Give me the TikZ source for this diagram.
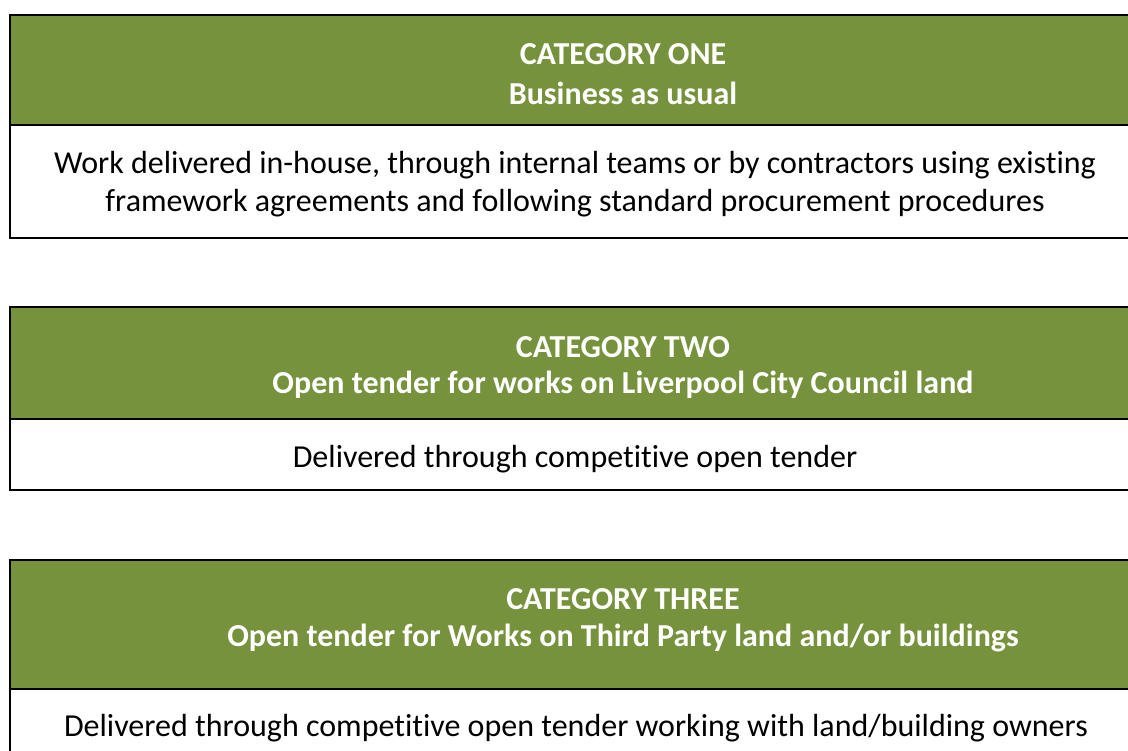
\documentclass[tikz,border=0pt]{standalone}
\usepackage{fontspec}
\setmainfont{Carlito}[Ligatures=NoCommon]
\definecolor{olive}{HTML}{76923C}
\begin{document}
\begin{tikzpicture}[x=1pt,y=-1pt,
  panel/.style={draw=black,line width=2pt,inner sep=0pt,outer sep=0pt},
  hdr/.style={panel,fill=olive},
  bodybox/.style={panel,fill=white},
  title/.style={text=white,font=\fontsize{32}{39}\selectfont\bfseries,align=center,inner sep=0pt},
  body/.style={text=black,font=\fontsize{32}{38}\selectfont,align=center,inner sep=0pt}]
\useasboundingbox (0,0) rectangle (1128,751);
\clip (0,0) rectangle (1128,751);
% Category one
\node[hdr,minimum width=1140pt,minimum height=110pt,anchor=north west] (h1) at (10,15) {};
\node[bodybox,minimum width=1140pt,minimum height=113pt,anchor=north west] (b1) at (10,125) {};
\node[title] (t1a) at (623,54) {CATEGORY ONE};
\node[title] (t1b) at (623,93) {Business as usual};
\node[body] (d1a) at (575,165) {Work delivered in-house, through internal teams or by contractors using existing};
\node[body] (d1b) at (575,203) {framework agreements and following standard procurement procedures};
% Category two
\node[hdr,minimum width=1140pt,minimum height=112pt,anchor=north west] (h2) at (10,307) {};
\node[bodybox,minimum width=1140pt,minimum height=71pt,anchor=north west] (b2) at (10,419) {};
\node[title] (t2a) at (623,347) {CATEGORY TWO};
\node[title] (t2b) at (623,385) {Open tender for works on Liverpool City Council land};
\node[body] (d2) at (575,459) {Delivered through competitive open tender};
% Category three
\node[hdr,minimum width=1140pt,minimum height=129pt,anchor=north west] (h3) at (10,560) {};
\node[bodybox,minimum width=1140pt,minimum height=100pt,anchor=north west] (b3) at (10,689) {};
\node[title] (t3a) at (623,599) {CATEGORY THREE};
\node[title] (t3b) at (623,638) {Open tender for Works on Third Party land and/or buildings};
\node[body] (d3) at (576,728) {Delivered through competitive open tender working with land/building owners};
\end{tikzpicture}
\end{document}
